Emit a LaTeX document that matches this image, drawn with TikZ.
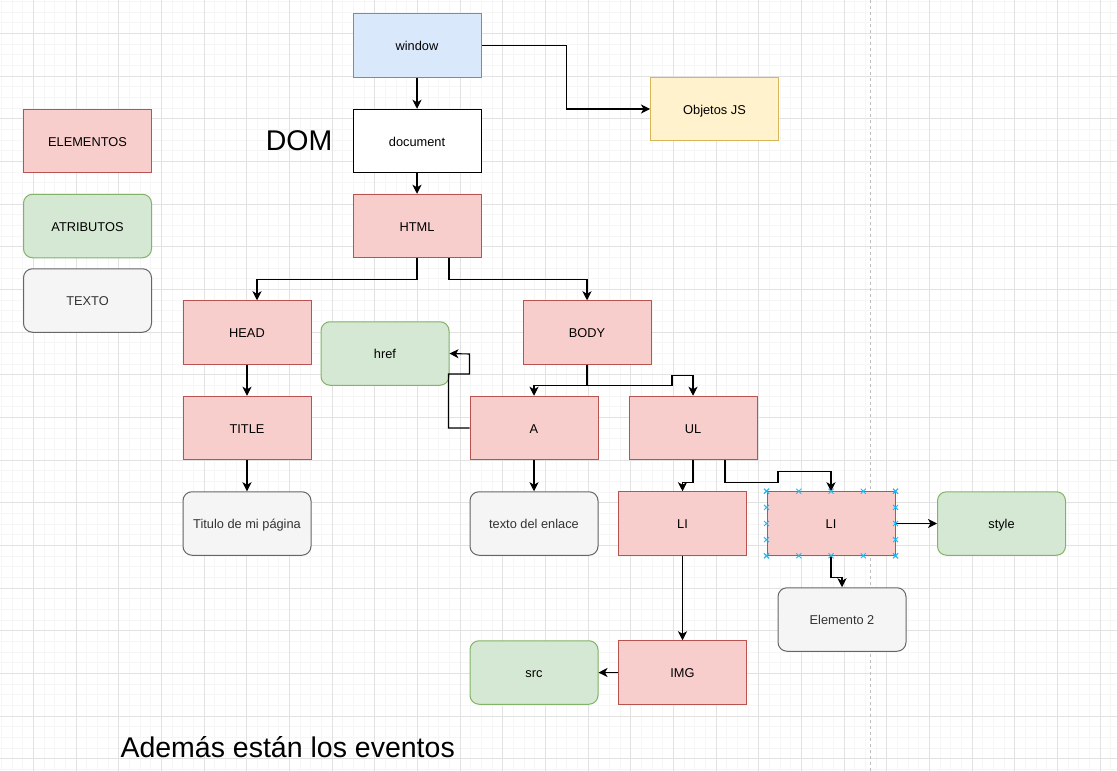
\documentclass[tikz,border=0pt]{standalone}
\usepackage{fontspec}
\setmainfont{Liberation Sans}
\usetikzlibrary{arrows.meta,calc}
\newcommand{\boxfont}{\fontsize{12.8}{15}\selectfont}
\newcommand{\bigfont}{\fontsize{28.5}{32}\selectfont}

\begin{document}
\begin{tikzpicture}[x=1pt,y=-1pt]
                        \tikzstyle{box}=[rectangle, minimum width=128pt, minimum height=63.5pt, inner sep=0pt, text height=11pt, text depth=1pt, line width=1pt, font=\boxfont]
                        \tikzstyle{elem}=[box, fill={rgb,255:red,248;green,206;blue,204}, draw={rgb,255:red,184;green,84;blue,80}]
                        \tikzstyle{attr}=[box, rounded corners=9pt, fill={rgb,255:red,213;green,232;blue,212}, draw={rgb,255:red,130;green,179;blue,102}]
                        \tikzstyle{txt}=[box, rounded corners=9pt, fill={rgb,255:red,245;green,245;blue,245}, draw={rgb,255:red,102;green,102;blue,102}, text={rgb,255:red,51;green,51;blue,51}]
                        \tikzstyle{arr}=[-{Stealth[length=9pt,width=9pt,inset=2.5pt]}, line width=1.1pt, rounded corners=0pt]
                        \tikzstyle{minorline}=[line width=0.7pt, color={rgb,255:red,246;green,246;blue,246}]
                        \tikzstyle{majorline}=[line width=0.9pt, color={rgb,255:red,226;green,226;blue,226}]
                        \tikzstyle{handle}=[line width=0.9pt, color={rgb,255:red,41;green,182;blue,242}]
                        % fondo y cuadricula
                        \useasboundingbox (0,0) rectangle (1117,771);
                        \fill[white] (0,0) rectangle (1117,771);
                        \begin{scope}
                            \clip (0,0) rectangle (1117,771);
                            \foreach \i in {0,...,106} {
                                \draw[minorline] ({-9.33+\i*10.667},0) -- ++(0,771);
                            }
                            \foreach \i in {0,...,73} {
                                \draw[minorline] (0,{-9.33+\i*10.667}) -- ++(1117,0);
                            }
                            \foreach \i in {0,...,27} {
                                \draw[majorline] ({-9.33+\i*42.667},0) -- ++(0,771);
                            }
                            \foreach \i in {0,...,19} {
                                \draw[majorline] (0,{-9.33+\i*42.667}) -- ++(1117,0);
                            }
                        \end{scope}
                        \draw[dashed, line width=1pt, color={rgb,255:red,190;green,190;blue,190}] (870,0) -- (870,771);

                        % leyenda
                        \node[elem] (elementos) at (87.5,141) {ELEMENTOS};
                        \node[attr] (atributos) at (87.5,226) {ATRIBUTOS};
                        \node[txt] (texto) at (87.5,300.5) {TEXTO};

                        % arbol
                        \node[box, fill={rgb,255:red,218;green,232;blue,252}, draw={rgb,255:red,108;green,142;blue,191}] (window) at (417,45.5) {window};
                        \node[box, fill={rgb,255:red,255;green,242;blue,204}, draw={rgb,255:red,214;green,182;blue,86}] (objetos) at (714.5,109) {Objetos JS};
                        \node[box, fill=white, draw=black] (document) at (417,141) {document};
                        \node[font=\bigfont] (dom) at (299,141) {DOM};
                        \node[elem] (html) at (417,226) {HTML};
                        \node[elem] (head) at (247,332.5) {HEAD};
                        \node[elem] (body) at (587,332.5) {BODY};
                        \node[attr] (href) at (385,353.5) {href};
                        \node[elem] (title) at (247,428) {TITLE};
                        \node[elem] (a) at (534,428) {A};
                        \node[elem] (ul) at (693,428) {UL};
                        \node[txt] (titulo) at (247,523.5) {Titulo de mi página};
                        \node[txt] (enlace) at (534,523.5) {texto del enlace};
                        \node[elem] (li1) at (682.5,523.5) {LI};
                        \node[elem] (li2) at (831,523.5) {LI};
                        \node[attr] (style) at (1001.5,523.5) {style};
                        \node[txt] (elemento2) at (842,619.5) {Elemento 2};
                        \node[elem] (img) at (682.5,672.5) {IMG};
                        \node[attr] (src) at (534,672.5) {src};
                        \node[font=\bigfont, anchor=west] (eventos) at (117,747) {Además están los eventos};

                        % conexiones
                        \draw[arr] (window) -- (document);
                        \draw[arr] (window.east) -- ++(85,0) |- (objetos.west);
                        \draw[arr] (document) -- (html);
                        \draw[arr] (html.south) -- ++(0,21) -| ([xshift=10pt]head.north);
                        \draw[arr] ([xshift=32pt]html.south) -- ++(0,21) -| (body.north);
                        \draw[arr] (head) -- (title);
                        \draw[arr] (title) -- (titulo);
                        \draw[arr] (body.south) -- ++(0,21) -| (a.north);
                        \draw[arr] (body.south) -- ++(0,21) -| ++(85,-10) -| (ul.north);
                        \draw[arr] (a.west) -| ++(-21,-54) -| ++(21,-20) -- (href.east);
                        \draw[arr] (a) -- (enlace);
                        \draw[arr] (ul.south) -- ++(0,22) -| (li1.north);
                        \draw[arr] ([xshift=32pt]ul.south) -- ++(0,22) -| ++(53,-11) -| (li2.north);
                        \draw[arr] (li2) -- (style);
                        \draw[arr] (li2.south) -- ++(0,22) -| (elemento2.north);
                        \draw[arr] (li1) -- (img);
                        \draw[arr] (img) -- (src);

                        % marcas de seleccion
                        \foreach \f in {0,0.25,0.5,0.75,1} {
                            \foreach \p in {($(li2.north west)!\f!(li2.north east)$), ($(li2.south west)!\f!(li2.south east)$), ($(li2.north west)!\f!(li2.south west)$), ($(li2.north east)!\f!(li2.south east)$)} {
                                \draw[handle] \p ++(-2.5,-2.5) -- ++(5,5) \p ++(-2.5,2.5) -- ++(5,-5);
                            }
                        }
                    \end{tikzpicture}
\end{document}
